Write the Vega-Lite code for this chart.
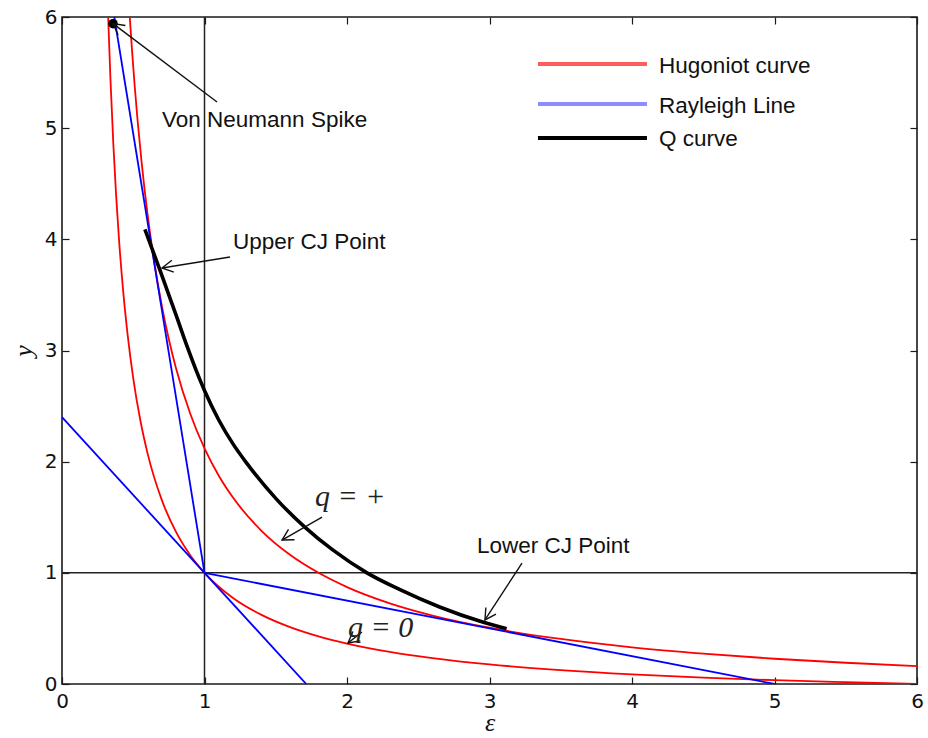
{
  "$schema": "https://vega.github.io/schema/vega-lite/v6.json",
  "width": 855,
  "height": 667,
  "autosize": {"type": "none"},
  "padding": {"left": 62, "top": 17, "right": 11, "bottom": 54},
  "background": "white",
  "config": {
    "view": {"stroke": "#1a1a1a", "strokeWidth": 1.6},
    "axis": {
      "domain": false,
      "grid": false,
      "tickColor": "#1a1a1a",
      "tickSize": -7,
      "tickWidth": 1.2,
      "labelFont": "DejaVu Sans",
      "labelFontSize": 20,
      "labelColor": "#111111",
      "labelFlush": false,
      "labelOverlap": false,
      "titleFont": "Liberation Serif",
      "titleFontStyle": "italic",
      "titleFontWeight": "normal",
      "titleFontSize": 26,
      "titleColor": "#111111"
    },
    "text": {"font": "Liberation Sans", "fontSize": 22.5, "color": "#111111"}
  },
  "datasets": {
    "hugoniot": [
      {"curve": "q=0", "x": 0.324, "y": 6.0},
      {"curve": "q=0", "x": 0.34, "y": 5.442},
      {"curve": "q=0", "x": 0.36, "y": 4.862},
      {"curve": "q=0", "x": 0.38, "y": 4.391},
      {"curve": "q=0", "x": 0.40, "y": 4.0},
      {"curve": "q=0", "x": 0.43, "y": 3.525},
      {"curve": "q=0", "x": 0.46, "y": 3.148},
      {"curve": "q=0", "x": 0.50, "y": 2.75},
      {"curve": "q=0", "x": 0.55, "y": 2.37},
      {"curve": "q=0", "x": 0.60, "y": 2.077},
      {"curve": "q=0", "x": 0.70, "y": 1.656},
      {"curve": "q=0", "x": 0.80, "y": 1.368},
      {"curve": "q=0", "x": 0.90, "y": 1.159},
      {"curve": "q=0", "x": 1.0, "y": 1.0},
      {"curve": "q=0", "x": 1.2, "y": 0.774},
      {"curve": "q=0", "x": 1.4, "y": 0.622},
      {"curve": "q=0", "x": 1.6, "y": 0.512},
      {"curve": "q=0", "x": 1.8, "y": 0.429},
      {"curve": "q=0", "x": 2.0, "y": 0.364},
      {"curve": "q=0", "x": 2.3, "y": 0.289},
      {"curve": "q=0", "x": 2.6, "y": 0.233},
      {"curve": "q=0", "x": 3.0, "y": 0.176},
      {"curve": "q=0", "x": 3.5, "y": 0.125},
      {"curve": "q=0", "x": 4.0, "y": 0.087},
      {"curve": "q=0", "x": 4.5, "y": 0.058},
      {"curve": "q=0", "x": 5.0, "y": 0.034},
      {"curve": "q=0", "x": 5.5, "y": 0.016},
      {"curve": "q=0", "x": 6.0, "y": 0.0},
      {"curve": "q=+", "x": 0.4756, "y": 6.0},
      {"curve": "q=+", "x": 0.49, "y": 5.725},
      {"curve": "q=+", "x": 0.51, "y": 5.382},
      {"curve": "q=+", "x": 0.53, "y": 5.076},
      {"curve": "q=+", "x": 0.56, "y": 4.677},
      {"curve": "q=+", "x": 0.60, "y": 4.229},
      {"curve": "q=+", "x": 0.65, "y": 3.775},
      {"curve": "q=+", "x": 0.70, "y": 3.405},
      {"curve": "q=+", "x": 0.75, "y": 3.099},
      {"curve": "q=+", "x": 0.80, "y": 2.841},
      {"curve": "q=+", "x": 0.90, "y": 2.431},
      {"curve": "q=+", "x": 1.0, "y": 2.119},
      {"curve": "q=+", "x": 1.1, "y": 1.874},
      {"curve": "q=+", "x": 1.2, "y": 1.677},
      {"curve": "q=+", "x": 1.4, "y": 1.378},
      {"curve": "q=+", "x": 1.6, "y": 1.162},
      {"curve": "q=+", "x": 1.8, "y": 1.0},
      {"curve": "q=+", "x": 2.0, "y": 0.872},
      {"curve": "q=+", "x": 2.3, "y": 0.726},
      {"curve": "q=+", "x": 2.6, "y": 0.616},
      {"curve": "q=+", "x": 3.0, "y": 0.506},
      {"curve": "q=+", "x": 3.5, "y": 0.405},
      {"curve": "q=+", "x": 4.0, "y": 0.330},
      {"curve": "q=+", "x": 4.5, "y": 0.273},
      {"curve": "q=+", "x": 5.0, "y": 0.227},
      {"curve": "q=+", "x": 5.5, "y": 0.191},
      {"curve": "q=+", "x": 6.0, "y": 0.160}
    ],
    "rayleigh": [
      {"line": "upper", "x": 0.367, "y": 6.0},
      {"line": "upper", "x": 1.0, "y": 1.0},
      {"line": "lower", "x": 1.0, "y": 1.0},
      {"line": "lower", "x": 5.0, "y": 0.0},
      {"line": "middle", "x": 0.0, "y": 2.4},
      {"line": "middle", "x": 1.714, "y": 0.0}
    ],
    "qcurve": [
      {"x": 0.582, "y": 4.09},
      {"x": 0.688, "y": 3.72},
      {"x": 0.80, "y": 3.32},
      {"x": 0.88, "y": 3.03},
      {"x": 0.94, "y": 2.826},
      {"x": 1.0, "y": 2.64},
      {"x": 1.1, "y": 2.375},
      {"x": 1.2, "y": 2.16},
      {"x": 1.3, "y": 1.98},
      {"x": 1.5, "y": 1.67},
      {"x": 1.7, "y": 1.416},
      {"x": 1.9, "y": 1.206},
      {"x": 2.14, "y": 1.0},
      {"x": 2.372, "y": 0.849},
      {"x": 2.65, "y": 0.693},
      {"x": 2.957, "y": 0.555},
      {"x": 3.12, "y": 0.496}
    ],
    "spike": [{"x": 0.358, "y": 5.94}],
    "arrows": [
      {"name": "spike", "x": 1.088, "y": 5.235, "x2": 0.358, "y2": 5.94},
      {"name": "upper", "x": 1.179, "y": 3.841, "x2": 0.702, "y2": 3.742},
      {"name": "lower", "x": 3.228, "y": 1.088, "x2": 2.968, "y2": 0.576},
      {"name": "qplus", "x": 1.825, "y": 1.502, "x2": 1.544, "y2": 1.295},
      {"name": "qzero", "x": 2.105, "y": 0.468, "x2": 2.007, "y2": 0.369}
    ],
    "notes": [
      {"text": "Von Neumann Spike", "x": 0.702, "y": 5.01},
      {"text": "Upper CJ Point", "x": 1.2, "y": 3.913},
      {"text": "Lower CJ Point", "x": 2.912, "y": 1.178}
    ],
    "mathnotes": [
      {"text": "q = +", "x": 1.775, "y": 1.601},
      {"text": "q = 0", "x": 2.007, "y": 0.423}
    ],
    "legend": [
      {"entry": "Hugoniot curve", "x": 3.34, "x2": 4.105, "y": 5.577, "tx": 4.19, "ty": 5.496},
      {"entry": "Rayleigh Line", "x": 3.34, "x2": 4.105, "y": 5.217, "tx": 4.19, "ty": 5.136},
      {"entry": "Q curve", "x": 3.34, "x2": 4.105, "y": 4.911, "tx": 4.19, "ty": 4.839}
    ]
  },
  "layer": [
    {
      "data": {"values": [{"v": 1}]},
      "mark": {"type": "rule", "color": "#222222", "strokeWidth": 1.5},
      "encoding": {
        "x": {"field": "v", "type": "quantitative", "scale": {"domain": [0, 6], "nice": false}, "axis": null}
      }
    },
    {
      "data": {"values": [{"v": 1}]},
      "mark": {"type": "rule", "color": "#222222", "strokeWidth": 1.5},
      "encoding": {
        "y": {"field": "v", "type": "quantitative", "scale": {"domain": [0, 6], "nice": false}, "axis": null}
      }
    },
    {
      "data": {"name": "hugoniot"},
      "mark": {"type": "line", "color": "#ff0000", "strokeWidth": 1.8, "clip": true, "interpolate": "monotone"},
      "encoding": {
        "x": {
          "field": "x", "type": "quantitative",
          "scale": {"domain": [0, 6], "nice": false},
          "axis": {"orient": "bottom", "title": "ε", "values": [0, 1, 2, 3, 4, 5, 6], "format": "d", "labelPadding": 14, "titlePadding": 19, "titleBaseline": "alphabetic"}
        },
        "y": {
          "field": "y", "type": "quantitative",
          "scale": {"domain": [0, 6], "nice": false},
          "axis": {"orient": "left", "title": "y", "values": [0, 1, 2, 3, 4, 5, 6], "format": "d", "labelPadding": 12, "titlePadding": 8}
        },
        "detail": {"field": "curve"}
      }
    },
    {
      "data": {"name": "rayleigh"},
      "mark": {"type": "line", "color": "#0000ff", "strokeWidth": 1.8, "clip": true},
      "encoding": {
        "x": {"field": "x", "type": "quantitative", "axis": {"orient": "top", "labels": false, "title": null, "values": [0, 1, 2, 3, 4, 5, 6]}},
        "y": {"field": "y", "type": "quantitative", "axis": {"orient": "right", "labels": false, "title": null, "values": [0, 1, 2, 3, 4, 5, 6]}},
        "detail": {"field": "line"}
      }
    },
    {
      "data": {"name": "qcurve"},
      "mark": {"type": "line", "color": "#000000", "strokeWidth": 3.6, "interpolate": "monotone"},
      "encoding": {
        "x": {"field": "x", "type": "quantitative", "axis": null},
        "y": {"field": "y", "type": "quantitative", "axis": null}
      }
    },
    {
      "data": {"name": "spike"},
      "mark": {"type": "point", "filled": true, "color": "#000000", "size": 90, "opacity": 1},
      "encoding": {
        "x": {"field": "x", "type": "quantitative", "axis": null},
        "y": {"field": "y", "type": "quantitative", "axis": null}
      }
    },
    {
      "data": {"name": "arrows"},
      "mark": {"type": "rule", "color": "#111111", "strokeWidth": 1.4},
      "encoding": {
        "x": {"field": "x", "type": "quantitative", "axis": null},
        "y": {"field": "y", "type": "quantitative", "axis": null},
        "x2": {"field": "x2"},
        "y2": {"field": "y2"}
      }
    },
    {
      "data": {"name": "arrows"},
      "transform": [
        {"calculate": "atan2((datum.y - datum.y2) * 111.17, (datum.x2 - datum.x) * 142.5) * 180 / PI", "as": "heading"}
      ],
      "mark": {"type": "point", "shape": "M -1 -0.55 L 0 0 L -1 0.55", "filled": false, "color": "#111111", "strokeWidth": 1.4, "size": 480, "opacity": 1},
      "encoding": {
        "x": {"field": "x2", "type": "quantitative", "axis": null},
        "y": {"field": "y2", "type": "quantitative", "axis": null},
        "angle": {"field": "heading", "type": "quantitative", "scale": null}
      }
    },
    {
      "data": {"name": "notes"},
      "mark": {"type": "text", "align": "left", "baseline": "alphabetic"},
      "encoding": {
        "x": {"field": "x", "type": "quantitative", "axis": null},
        "y": {"field": "y", "type": "quantitative", "axis": null},
        "text": {"field": "text"}
      }
    },
    {
      "data": {"name": "mathnotes"},
      "mark": {"type": "text", "align": "left", "baseline": "alphabetic", "font": "Liberation Serif", "fontStyle": "italic", "fontSize": 30, "color": "#222222"},
      "encoding": {
        "x": {"field": "x", "type": "quantitative", "axis": null},
        "y": {"field": "y", "type": "quantitative", "axis": null},
        "text": {"field": "text"}
      }
    },
    {
      "data": {"name": "legend"},
      "mark": {"type": "rule", "strokeWidth": 4},
      "encoding": {
        "x": {"field": "x", "type": "quantitative", "axis": null},
        "x2": {"field": "x2"},
        "y": {"field": "y", "type": "quantitative", "axis": null},
        "color": {
          "field": "entry",
          "type": "nominal",
          "scale": {"domain": ["Hugoniot curve", "Rayleigh Line", "Q curve"], "range": ["#ff5c5c", "#8c8cff", "#000000"]},
          "legend": null
        }
      }
    },
    {
      "data": {"name": "legend"},
      "mark": {"type": "text", "align": "left", "baseline": "alphabetic"},
      "encoding": {
        "x": {"field": "tx", "type": "quantitative", "axis": null},
        "y": {"field": "ty", "type": "quantitative", "axis": null},
        "text": {"field": "entry"}
      }
    }
  ],
  "resolve": {"axis": {"x": "independent", "y": "independent"}}
}
